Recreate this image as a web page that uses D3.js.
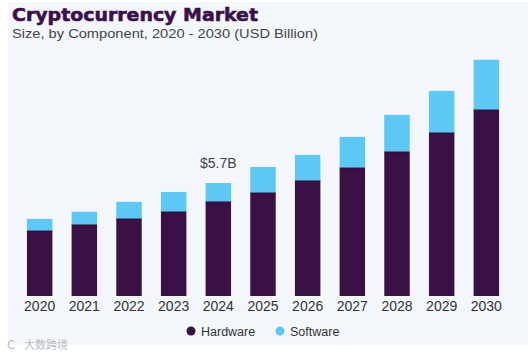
<!DOCTYPE html>
<html><head><meta charset="utf-8">
<script src="https://cdn.jsdelivr.net/npm/d3@7"></script>
<style>
html,body{margin:0;padding:0;background:#fff;}
svg{display:block;}
</style></head>
<body>
<svg id="c" width="532" height="355"></svg>
<script>
const years = ["2020","2021","2022","2023","2024","2025","2026","2027","2028","2029","2030"];
const hardware = [3.28,3.59,3.89,4.24,4.75,5.20,5.81,6.46,7.27,8.23,9.39];
const software = [0.61,0.66,0.86,1.01,0.95,1.31,1.31,1.57,1.87,2.12,2.53];
const seriesNames = ["Hardware","Software"];
const colors = ["#3a1045","#5bc8f5"];
const callout = {year:"2024", text:"$5.7B"};

const svg = d3.select("#c");
svg.append("rect").attr("x",8).attr("y",2).attr("width",520).attr("height",343).attr("fill","#f3f7fb");

svg.append("text").attr("x",12).attr("y",21).text("Cryptocurrency Market")
  .attr("font-family","'DejaVu Sans', sans-serif").attr("font-weight",700)
  .attr("font-size",18).attr("fill","#3b0f4a")
  .attr("textLength",246).attr("lengthAdjust","spacingAndGlyphs")
  .attr("stroke","#3b0f4a").attr("stroke-width",0.6);
svg.append("text").attr("x",12).attr("y",38).text("Size, by Component, 2020 - 2030 (USD Billion)")
  .attr("font-family","'Liberation Sans', Arial, sans-serif").attr("font-size",13.5).attr("fill","#444")
  .attr("textLength",306).attr("lengthAdjust","spacingAndGlyphs");

const x = d3.scaleBand().domain(years).range([18,508]).paddingInner(0.43).paddingOuter(0.2);
const y = d3.scaleLinear().domain([0,12]).range([296,296-12*19.82]);

const data = years.map((yr,i)=>({year:yr, Hardware:hardware[i], Software:software[i]}));
const stack = d3.stack().keys(seriesNames)(data);

svg.append("g").selectAll("g").data(stack).join("g")
  .attr("fill",(d,i)=>colors[i])
  .selectAll("rect").data(d=>d).join("rect")
  .attr("x",d=>x(d.data.year)).attr("width",x.bandwidth())
  .attr("y",d=>y(d[1])).attr("height",d=>y(d[0])-y(d[1]));

svg.append("g").selectAll("line").data(data).join("line")
  .attr("x1",d=>x(d.year)).attr("x2",d=>x(d.year)+x.bandwidth())
  .attr("y1",d=>y(d.Hardware)).attr("y2",d=>y(d.Hardware))
  .attr("stroke","#2a0a35").attr("stroke-width",0.8);

const xAxis = d3.axisBottom(x).tickSize(0).tickPadding(5);
const gx = svg.append("g").attr("transform","translate(0,296)").call(xAxis);
gx.select(".domain").remove();
gx.selectAll("text").attr("font-family","'Liberation Sans', Arial, sans-serif").attr("font-size",14).attr("fill","#333");

const ci = years.indexOf(callout.year);
svg.append("text").attr("x",x(callout.year)+x.bandwidth()/2).attr("y",y(hardware[ci]+software[ci])-15)
  .attr("text-anchor","middle").text(callout.text)
  .attr("font-family","'Liberation Sans', Arial, sans-serif").attr("font-size",14).attr("fill","#444");

const leg = svg.append("g");
const legX = [191,280];
seriesNames.forEach((n,i)=>{
  leg.append("circle").attr("cx",legX[i]).attr("cy",331).attr("r",4.5).attr("fill",colors[i]);
  leg.append("text").attr("x",legX[i]+10).attr("y",335.5).text(n)
    .attr("font-family","'Liberation Sans', Arial, sans-serif").attr("font-size",12.5).attr("fill","#333");
});

svg.append("text").attr("x",24).attr("y",349).text("大数跨境")
  .attr("font-family","'Noto Sans CJK SC', sans-serif").attr("font-size",11).attr("fill","#b8bcc4");
svg.append("text").attr("x",7).attr("y",349).text("C")
  .attr("font-family","'DejaVu Sans', sans-serif").attr("font-size",12).attr("fill","#b8bcc4");
</script>
</body></html>
